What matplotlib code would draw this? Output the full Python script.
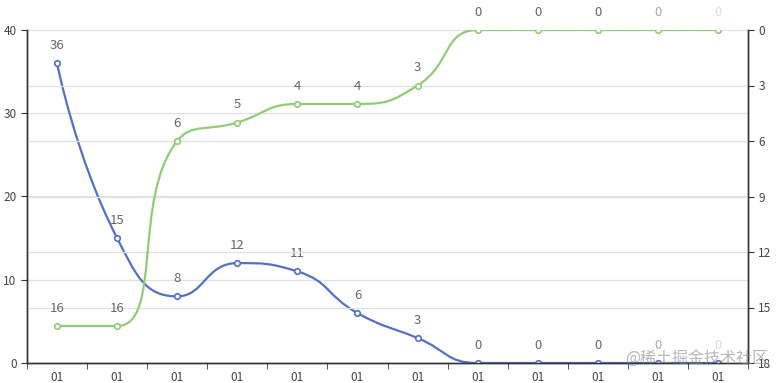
import numpy as np
import matplotlib

matplotlib.use("Agg")
import matplotlib.pyplot as plt
from matplotlib.path import Path
from matplotlib.patches import PathPatch

plt.rcParams["font.family"] = ["Noto Sans CJK SC", "DejaVu Sans"]

categories = ["01"] * 12
left_values = [36, 15, 8, 12, 11, 6, 3, 0, 0, 0, 0, 0]
right_values = [16, 16, 6, 5, 4, 4, 3, 0, 0, 0, 0, 0]
left_ticks = [0, 10, 20, 30, 40]
right_ticks = [0, 3, 6, 9, 12, 15, 18]

BLUE = "#5470c6"
GREEN = "#91cc75"
W, H = 783, 383


def smooth_path(ax, xs, ys, smooth=0.5):
    """echarts-5 style smoothed bezier (no overshoot), done in pixel space."""
    pts = ax.transData.transform(np.column_stack([xs, ys]))
    n = len(pts)
    verts = [pts[0]]
    codes = [Path.MOVETO]
    cp0 = pts[0].copy()
    for i in range(1, n):
        x, y = pts[i]
        if i == n - 1:
            cp1 = pts[i].copy()
            next_cp0 = pts[i].copy()
        else:
            px, py = pts[i - 1]
            nx, ny = pts[i + 1]
            vx, vy = nx - px, ny - py
            l0 = np.hypot(x - px, y - py)
            l1 = np.hypot(nx - x, ny - y)
            r = l1 / (l0 + l1)
            ncx = x + vx * smooth * r
            ncy = y + vy * smooth * r
            ncx = max(min(ncx, max(nx, x)), min(nx, x))
            ncy = max(min(ncy, max(ny, y)), min(ny, y))
            vx, vy = ncx - x, ncy - y
            c1x = x - vx * l0 / l1
            c1y = y - vy * l0 / l1
            c1x = max(min(c1x, max(px, x)), min(px, x))
            c1y = max(min(c1y, max(py, y)), min(py, y))
            vx, vy = x - c1x, y - c1y
            ncx = x + vx * l1 / l0
            ncy = y + vy * l1 / l0
            cp1 = np.array([c1x, c1y])
            next_cp0 = np.array([ncx, ncy])
        verts += [cp0, cp1, pts[i]]
        codes += [Path.CURVE4] * 3
        cp0 = next_cp0
    verts = ax.transData.inverted().transform(np.array(verts))
    return Path(verts, codes)


fig = plt.figure(figsize=(W / 100, H / 100), dpi=100)
ax = fig.add_axes([27 / W, 1 - 363 / H, 721 / W, 333 / H])
ax2 = ax.twinx()

x = np.arange(len(categories))
ax.set_xlim(-0.5, len(categories) - 0.5)
ax.set_ylim(0, 40)
ax2.set_ylim(18, 0)

for y in right_ticks[1:-1]:
    ax2.axhline(y, color="#e0e0e0", lw=0.9, zorder=0)
for y in left_ticks[1:]:
    ax.axhline(y, color="#e0e0e0", lw=0.9, zorder=0)

ax.set_xticks(x)
ax.set_xticklabels(categories)
ax.set_xticks(np.arange(-0.5, len(categories)), minor=True)
ax.tick_params(axis="x", which="major", length=0, pad=6, labelsize=8.5, labelcolor="#444444")
ax.tick_params(axis="x", which="minor", length=4, color="#333333")
ax.set_yticks(left_ticks)
ax.tick_params(axis="y", length=4, labelsize=8.5, labelcolor="#444444", color="#333333")
ax2.set_yticks(right_ticks)
ax2.tick_params(axis="y", length=4, labelsize=8.5, labelcolor="#444444", color="#333333")

for a in (ax, ax2):
    a.spines["top"].set_visible(False)
    for s in ("left", "right", "bottom"):
        a.spines[s].set_color("#333333")
        a.spines[s].set_linewidth(1)

fig.canvas.draw()

ax.add_patch(PathPatch(smooth_path(ax, x, left_values), fill=False,
                       edgecolor=BLUE, lw=1.6, zorder=3))
ax2.add_patch(PathPatch(smooth_path(ax2, x, right_values), fill=False,
                        edgecolor=GREEN, lw=1.6, zorder=3))
ax.plot(x, left_values, "o", ms=4, mfc="white", mec=BLUE, mew=1.2, zorder=4)
ax2.plot(x, right_values, "o", ms=4, mfc="white", mec=GREEN, mew=1.2, zorder=4)

n = len(categories)
label_colors = ["#666666"] * (n - 2) + ["#aaaaaa", "#dddddd"]
for i, v in enumerate(left_values):
    ax.annotate(str(v), (x[i], v), xytext=(0, 8), textcoords="offset points",
                ha="center", va="bottom", fontsize=9.5, color=label_colors[i], zorder=5)
for i, v in enumerate(right_values):
    ax2.annotate(str(v), (x[i], v), xytext=(0, 8), textcoords="offset points",
                 ha="center", va="bottom", fontsize=9.5, color=label_colors[i], zorder=5)

fig.text(768 / W, 1 - 359 / H, "@稀土掘金技术社区", ha="right", va="center",
         fontsize=11.5, color="#888888", alpha=0.6, zorder=10)

fig.savefig("out.png", dpi=100)
